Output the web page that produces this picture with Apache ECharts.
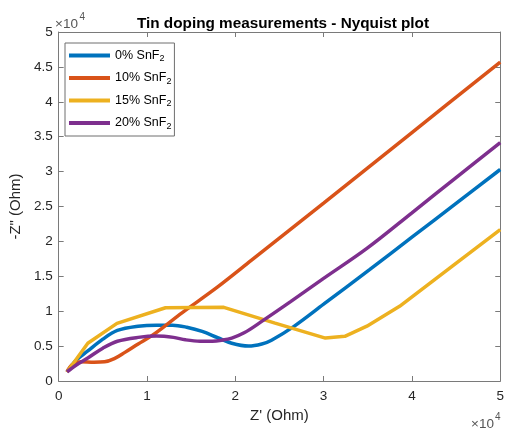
<!DOCTYPE html>
<html>
<head>
<meta charset="utf-8">
<script src="https://cdn.jsdelivr.net/npm/echarts@6/dist/echarts.min.js"></script>
<style>
  html, body { margin: 0; padding: 0; background: #fff; }
  #chart { width: 507px; height: 428px; }
</style>
</head>
<body>
<div id="chart"></div>
<script>
// Impedance spectra: real part Z' and negated imaginary part -Z'' (Ohm)
const seriesNames = ['0% SnF', '10% SnF', '15% SnF', '20% SnF'];

const sn0Re = [950, 2000, 3300, 5000, 6650, 9000, 11100, 12900, 14500, 16250, 18000, 19600, 21500, 23000, 24100, 26650, 30000, 35240, 40000, 45000, 50000];
const sn0Im = [1300, 3000, 4300, 6000, 7250, 7850, 8000, 8000, 7700, 7100, 6200, 5400, 5000, 5300, 5850, 7830, 11000, 16000, 20600, 25450, 30300];

const sn10Re = [950, 1500, 2500, 4000, 5200, 6300, 7500, 9000, 10670, 14000, 17930, 21840, 30000, 40000, 50000];
const sn10Im = [1300, 2300, 2750, 2700, 2750, 3200, 4100, 5300, 6600, 9800, 13400, 17300, 25500, 35600, 45700];

const sn15Re = [950, 3300, 6600, 12100, 18700, 24500, 30200, 32400, 34900, 38600, 44500, 50000];
const sn15Im = [1300, 5400, 8250, 10500, 10550, 8300, 6150, 6400, 7850, 10700, 16400, 21700];

const sn20Re = [950, 2000, 3300, 5000, 6650, 9000, 11100, 13000, 14350, 16000, 17400, 18500, 19600, 21000, 22950, 26300, 30000, 34900, 40000, 45000, 50000];
const sn20Im = [1300, 2300, 3300, 4700, 5700, 6250, 6450, 6250, 5900, 5700, 5700, 5850, 6150, 6900, 8500, 11400, 14700, 19000, 24100, 29150, 34150];

const xTicks = [0, 10000, 20000, 30000, 40000, 50000];
const yTicks = [0, 5000, 10000, 15000, 20000, 25000, 30000, 35000, 40000, 45000, 50000];

const colors = ['#0072BD', '#D95319', '#EDB120', '#7E2F8E'];
const pairs = [[sn0Re, sn0Im], [sn10Re, sn10Im], [sn15Re, sn15Im], [sn20Re, sn20Im]];
const smoothing = [0.35, 0.35, false, 0.35];

const font = '"Liberation Sans", Arial, sans-serif';
const axisColor = '#7a7a7a';
const textColor = '#262626';

const chart = echarts.init(document.getElementById('chart'), null, { renderer: 'canvas' });

const baseAxis = {
  type: 'value',
  axisLine: { show: true, onZero: false, lineStyle: { color: axisColor, width: 1 } },
  axisTick: { show: true, inside: true, length: 5, lineStyle: { color: axisColor } },
  splitLine: { show: false },
  axisLabel: { color: textColor, fontFamily: font, fontSize: 13.5 }
};

chart.setOption({
  animation: false,
  color: colors,
  title: {
    text: 'Tin doping measurements - Nyquist plot',
    left: 278,
    top: 11,
    textAlign: 'center',
    textStyle: { fontFamily: font, fontSize: 15.3, fontWeight: 'bold', color: '#000' }
  },
  grid: { left: 54, right: 5, top: 32, bottom: 45, containLabel: false },
  legend: {
    orient: 'vertical',
    left: 65,
    top: 43,
    padding: [6, 3, 5, 4],
    icon: 'rect',
    itemWidth: 41,
    itemHeight: 4,
    itemGap: 8,
    borderColor: '#6e6e6e',
    borderWidth: 1,
    backgroundColor: '#fff',
    data: seriesNames,
    formatter: name => '{a|' + name + '}{s|2}',
    textStyle: {
      color: '#000',
      fontFamily: font,
      fontSize: 12.5,
      rich: {
        a: { fontFamily: font, fontSize: 12.5, color: '#000' },
        s: { fontFamily: font, fontSize: 9, color: '#000', padding: [7, 0, 0, 0] }
      }
    }
  },
  xAxis: [
    Object.assign({}, baseAxis, {
      min: 0, max: 50000, interval: 10000, position: 'bottom',
      name: "Z' (Ohm)", nameLocation: 'middle', nameGap: 27,
      nameTextStyle: { fontFamily: font, fontSize: 15, color: textColor },
      axisLabel: Object.assign({}, baseAxis.axisLabel, {
        margin: 8,
        formatter: v => (xTicks.indexOf(v) >= 0 ? String(v / 10000) : '')
      })
    }),
    Object.assign({}, baseAxis, {
      min: 0, max: 50000, interval: 10000, position: 'top',
      axisLabel: { show: false }
    })
  ],
  yAxis: [
    Object.assign({}, baseAxis, {
      min: 0, max: 50000, interval: 5000, position: 'left',
      name: '-Z" (Ohm)', nameLocation: 'middle', nameGap: 28, nameRotate: 90,
      nameTextStyle: { fontFamily: font, fontSize: 15, color: textColor },
      axisLabel: Object.assign({}, baseAxis.axisLabel, {
        margin: 6,
        formatter: v => (yTicks.indexOf(v) >= 0 ? String(v / 10000) : '')
      })
    }),
    Object.assign({}, baseAxis, {
      min: 0, max: 50000, interval: 5000, position: 'right',
      axisLabel: { show: false }
    })
  ],
  series: seriesNames.map((name, i) => ({
    name: name,
    type: 'line',
    xAxisIndex: 0,
    yAxisIndex: 0,
    showSymbol: false,
    symbol: 'none',
    smooth: smoothing[i],
    lineStyle: { width: 3.5, color: colors[i] },
    itemStyle: { color: colors[i] },
    data: pairs[i][0].map((x, k) => [x, pairs[i][1][k]]),
    z: 2 + i
  })),
  graphic: [
    // exponent multipliers for both axes
    { type: 'text', left: 55, top: 17, style: { text: '×10', fontFamily: font, fontSize: 13.5, fill: '#555' } },
    { type: 'text', left: 79.5, top: 12, style: { text: '4', fontFamily: font, fontSize: 10, fill: '#555' } },
    { type: 'text', left: 471, top: 417, style: { text: '×10', fontFamily: font, fontSize: 13.5, fill: '#555' } },
    { type: 'text', left: 495, top: 412, style: { text: '4', fontFamily: font, fontSize: 10, fill: '#555' } }
  ]
});
</script>
</body>
</html>
